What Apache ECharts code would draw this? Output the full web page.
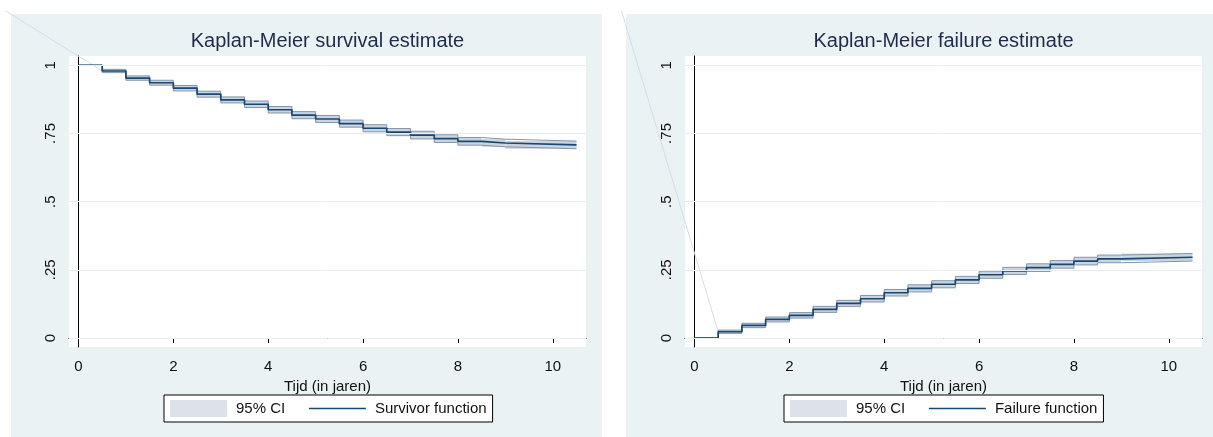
<!DOCTYPE html>
<html>
<head>
<meta charset="utf-8">
<script src="https://cdn.jsdelivr.net/npm/echarts@6/dist/echarts.min.js"></script>
<style>
html,body{margin:0;padding:0;background:#fff;}
#chart{width:1213px;height:437px;}
</style>
</head>
<body>
<div id="chart"></div>
<script>
// ---- data ----
const times = [0,0.5,1,1.5,2,2.5,3,3.5,4,4.5,5,5.5,6,6.5,7,7.5,8,8.5,9];
const endTime = 10.5;
const survival = [1.000,0.979,0.953,0.936,0.916,0.894,0.873,0.857,0.837,0.817,0.803,0.786,0.769,0.755,0.744,0.731,0.721,0.715,0.708];
const survLow  = [1.000,0.973,0.945,0.927,0.906,0.883,0.862,0.845,0.825,0.804,0.790,0.773,0.756,0.742,0.730,0.717,0.707,0.701,0.694];
const survHigh = [1.000,0.985,0.961,0.945,0.926,0.905,0.884,0.869,0.849,0.830,0.816,0.799,0.782,0.768,0.758,0.745,0.735,0.729,0.722];
const failure  = [0.000,0.023,0.046,0.068,0.083,0.105,0.127,0.144,0.166,0.182,0.197,0.213,0.232,0.246,0.258,0.270,0.282,0.290,0.296];
const failLow  = [0.000,0.017,0.038,0.059,0.073,0.094,0.116,0.132,0.154,0.169,0.184,0.200,0.219,0.233,0.244,0.256,0.268,0.276,0.282];
const failHigh = [0.000,0.029,0.054,0.077,0.093,0.116,0.138,0.156,0.178,0.195,0.210,0.226,0.245,0.259,0.272,0.284,0.296,0.304,0.310];
const xTicks = [0,2,4,6,8,10];
const yTicks = [0,0.25,0.5,0.75,1];
const yTickLabels = ['0','.25','.5','.75','1'];
const traceStart = [-1.54, 1.2];
const titles = ['Kaplan-Meier survival estimate','Kaplan-Meier failure estimate'];
const lineNames = ['Survivor function','Failure function'];
const ciName = '95% CI';
const xName = 'Tijd (in jaren)';

// ---- styles ----
const FONT = 'Liberation Sans, Arial, Helvetica, sans-serif';
const NAVY = '#1a476f';
const BAND = '#cbd5e0';
const BAND_EDGE = '#8195ad';
const SWATCH = '#dde2ea';
const PANEL = '#eaf2f3';
const GRIDLINE = '#e6eef0';
const TRACE = '#d7dee6';

function stepData(vals){
  const d = times.map((t,i)=>[t, vals[i]]);
  d.push([endTime, vals[vals.length-1]]);
  return d;
}
function bandData(lo, hi){
  return times.map((t,i)=>[t, i+1<times.length ? times[i+1] : endTime, lo[i], hi[i]]);
}

const grids = [
  {left:69, top:56, width:517, height:291},
  {left:685, top:56, width:517, height:291}
];

function makeSeries(gi, vals, lo, hi){
  const base = {xAxisIndex:gi, yAxisIndex:gi};
  return [
    Object.assign({
      type:'line', name:'grid', data:[], symbol:'none', silent:true, z:1,
      markLine:{
        silent:true, symbol:'none', label:{show:false},
        lineStyle:{color:GRIDLINE, width:1, type:'solid'},
        data: yTicks.map(v=>({yAxis:v}))
      }
    }, base),
    Object.assign({
      type:'custom', name:ciName, data:bandData(lo,hi), z:2,
      encode:{x:[0,1], y:[2,3]},
      itemStyle:{color:SWATCH},
      renderItem:function(params, api){
        const p1 = api.coord([api.value(0), api.value(3)]);
        const p2 = api.coord([api.value(1), api.value(2)]);
        return {type:'rect', shape:{x:p1[0], y:p1[1], width:p2[0]-p1[0], height:p2[1]-p1[1]},
                style:{fill:BAND}};
      }
    }, base),
    Object.assign({
      type:'line', name:'lo', data:stepData(lo), step:'end', symbol:'none', silent:true, z:3,
      lineStyle:{color:BAND_EDGE, width:1}
    }, base),
    Object.assign({
      type:'line', name:'hi', data:stepData(hi), step:'end', symbol:'none', silent:true, z:3,
      lineStyle:{color:BAND_EDGE, width:1}
    }, base),
    Object.assign({
      type:'line', name:lineNames[gi], data:stepData(vals), step:'end', symbol:'none', z:4,
      color:NAVY, lineStyle:{color:NAVY, width:1.7}
    }, base)
  ];
}

function xAxis(gi){
  return {
    type:'value', gridIndex:gi, min:-0.2, max:10.7,
    name:xName, nameLocation:'middle', nameGap:20,
    nameTextStyle:{color:'#111', fontSize:15, fontFamily:FONT},
    axisLine:{show:true, lineStyle:{color:'#000', width:1}},
    axisTick:{show:true, customValues:xTicks, length:5, lineStyle:{color:'#000'}},
    axisLabel:{customValues:xTicks, margin:12, color:'#111', fontSize:15, fontFamily:FONT},
    splitLine:{show:false}
  };
}
function yAxis(gi){
  return {
    type:'value', gridIndex:gi, min:-0.033, max:1.034,
    axisLine:{show:true, lineStyle:{color:'#000', width:1}},
    axisTick:{show:true, customValues:yTicks, length:5, lineStyle:{color:'#000'}},
    axisLabel:{customValues:yTicks, rotate:90, margin:11, color:'#111', fontSize:15, fontFamily:FONT,
      formatter:function(v){ const i = yTicks.indexOf(v); return i>=0 ? yTickLabels[i] : ''; }},
    splitLine:{show:false}
  };
}

function legend(gi, left){
  return {
    left:left, top:395, orient:'horizontal',
    backgroundColor:'#fff', borderColor:'#000', borderWidth:1,
    padding:[5,6,5,6], itemGap:23, itemWidth:57, itemHeight:17,
    textStyle:{color:'#111', fontSize:15, fontFamily:FONT, padding:[0,0,0,4]},
    selectedMode:false,
    data:[
      {name:ciName, icon:'rect', itemStyle:{color:SWATCH, borderWidth:0}},
      {name:lineNames[gi],
       itemStyle:{color:'rgba(0,0,0,0)', borderColor:'rgba(0,0,0,0)', borderWidth:0},
       lineStyle:{color:NAVY, width:1.4}}
    ]
  };
}

const panels = [
  {type:'rect', z:-100, shape:{x:11, y:14, width:591, height:423}, style:{fill:PANEL}, silent:true},
  {type:'rect', z:-100, shape:{x:626, y:14, width:587, height:423}, style:{fill:PANEL}, silent:true}
];

const option = {
  animation:false,
  backgroundColor:'#fff',
  graphic:panels,
  title:[
    {text:titles[0], left:327.5, top:31, textAlign:'center', padding:0,
     textStyle:{color:'#1e2b4d', fontSize:20, fontWeight:'normal', fontFamily:FONT}},
    {text:titles[1], left:943.5, top:31, textAlign:'center', padding:0,
     textStyle:{color:'#1e2b4d', fontSize:20, fontWeight:'normal', fontFamily:FONT}}
  ],
  legend:[legend(0,164), legend(1,784)],
  grid: grids.map(g=>Object.assign({show:true, backgroundColor:'#fff', borderWidth:0, containLabel:false}, g)),
  xAxis:[xAxis(0), xAxis(1)],
  yAxis:[yAxis(0), yAxis(1)],
  series: makeSeries(0, survival, survLow, survHigh).concat(makeSeries(1, failure, failLow, failHigh))
};

const chart = echarts.init(document.getElementById('chart'), null, {renderer:'canvas'});
chart.setOption(option);

// faint stray trace line (present in the reference), positioned through the axes' scales
const traceEnds = [[times[1], survival[1]], [times[1], failure[1]]];
const traces = traceEnds.map((end, gi) => {
  const a = chart.convertToPixel({gridIndex:gi}, traceStart);
  const b = chart.convertToPixel({gridIndex:gi}, end);
  return {type:'line', z:1, silent:true,
          shape:{x1:a[0], y1:a[1], x2:b[0], y2:b[1]},
          style:{stroke:TRACE, lineWidth:1}};
});
chart.setOption({graphic: panels.concat(traces)});
</script>
</body>
</html>
